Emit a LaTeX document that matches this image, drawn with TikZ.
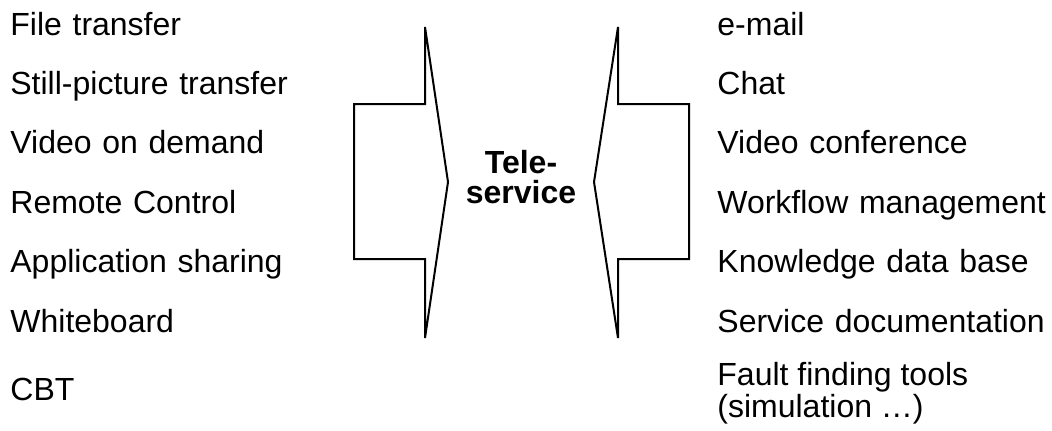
\documentclass[tikz,border=0pt]{standalone}
\usepackage{fontspec}
\setmainfont{Liberation Sans}
\usetikzlibrary{positioning}

\begin{document}
\begin{tikzpicture}[
    x=0.5pt, y=-0.5pt,
    node distance=13.3pt,
    item/.style={inner sep=0pt, text width=170pt, align=left, text height=12pt, text depth=4pt, font=\fontsize{16}{19}\selectfont},
    multi/.style={inner sep=0pt, align=left, font=\fontsize{16}{14.5}\selectfont},
    title/.style={inner sep=0pt, align=center, font=\fontsize{16}{15}\selectfont\bfseries},
    bigarrow/.style={draw, line width=1pt, line join=miter}
]
    \useasboundingbox (0,0) rectangle (1052,430);

    % services on the left
    \node[item, anchor=base west] (file) at (10,35) {File transfer};
    \node[item, below=of file] (still) {Still-picture transfer};
    \node[item, below=of still] (vod) {Video on demand};
    \node[item, below=of vod] (remote) {Remote Control};
    \node[item, below=of remote] (appshare) {Application sharing};
    \node[item, below=of appshare] (board) {Whiteboard};
    \node[item, anchor=base west] (cbt) at (10,400) {CBT};

    % services on the right
    \node[item, anchor=base west] (email) at (717,35) {e-mail};
    \node[item, below=of email] (chat) {Chat};
    \node[item, below=of chat] (vconf) {Video conference};
    \node[item, below=of vconf] (workflow) {Workflow management};
    \node[item, below=of workflow] (kdb) {Knowledge data base};
    \node[item, below=of kdb] (servdoc) {Service documentation};
    \node[multi, anchor=north west] (fault) at (717,362) {Fault finding tools\\(simulation \dots)};

    \node[title] (tele) at (521,177.5) {Tele-\\service};

    \draw[bigarrow] (354,104) -- (425,104) -- (425,27) -- (448,182) -- (425,338) -- (425,259) -- (354,259) -- cycle;
    \draw[bigarrow] (689,104) -- (618,104) -- (618,27) -- (594,182) -- (618,338) -- (618,259) -- (689,259) -- cycle;
\end{tikzpicture}
\end{document}
